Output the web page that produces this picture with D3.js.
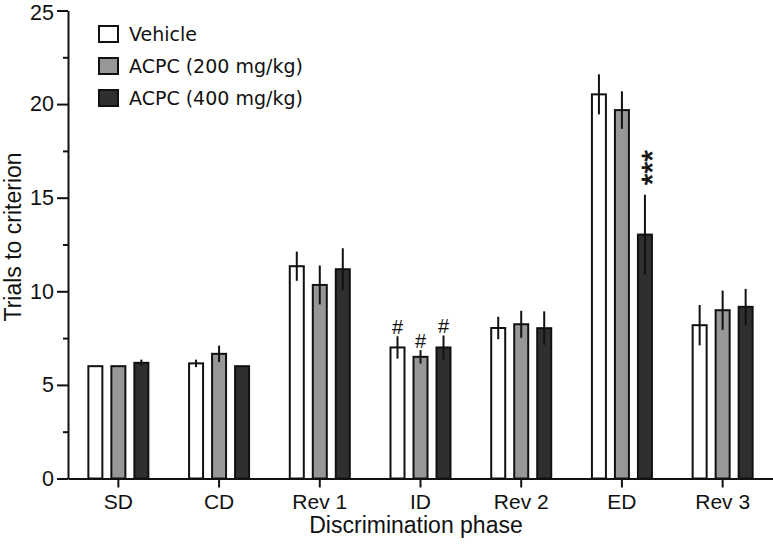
<!DOCTYPE html>
<html><head><meta charset="utf-8">
<script src="https://cdn.jsdelivr.net/npm/d3@7"></script>
<style>body{margin:0;background:#fff}svg{display:block}</style>
</head><body>
<svg id="chart" width="773" height="546"></svg>
<script>
const categories = ["SD","CD","Rev 1","ID","Rev 2","ED","Rev 3"];
const seriesNames = ["Vehicle","ACPC (200 mg/kg)","ACPC (400 mg/kg)"];
const seriesColors = ["#ffffff","#979797","#2f2f2f"];
const vehicle   = [6.0, 6.15, 11.34, 7.0, 8.04, 20.52, 8.19];
const acpc200   = [6.0, 6.66, 10.34, 6.5, 8.24, 19.68, 8.99];
const acpc400   = [6.18, 6.0, 11.18, 7.0, 8.03, 13.03, 9.17];
const vehicleErr = [0, 0.2, 0.78, 0.6, 0.6, 1.07, 1.08];
const acpc200Err = [0, 0.44, 1.04, 0.36, 0.72, 1.0, 1.05];
const acpc400Err = [0.17, 0, 1.12, 0.64, 0.9, 2.13, 0.96];
const hashMarks = [["ID",0],["ID",1],["ID",2]];
const starMarks = [["ED",2,"***"]];
const yTicks = [0,5,10,15,20,25];
const yMinor = [2.5,7.5,12.5,17.5,22.5];

const values = [vehicle, acpc200, acpc400];
const errs = [vehicleErr, acpc200Err, acpc400Err];
const FONT = "'Liberation Sans', Arial, sans-serif";

const svg = d3.select("#chart");
const x = d3.scaleBand().domain(categories).range([68, 773]).padding(0);
const y = d3.scaleLinear().domain([0, 25]).range([478.5, 10.5]);
const offset = d3.scalePoint().domain([0,1,2]).range([-23, 23]);
const barW = 14;

// bars
values.forEach((vals, s) => {
  const g = svg.append("g");
  g.selectAll("rect").data(categories).join("rect")
    .attr("x", (c) => x(c) + x.bandwidth()/2 + offset(s) - barW/2)
    .attr("width", barW)
    .attr("y", (c, i) => y(vals[i]))
    .attr("height", (c, i) => y(0) - y(vals[i]))
    .attr("fill", seriesColors[s])
    .attr("stroke", "#111")
    .attr("stroke-width", 2);
  g.selectAll("line.err").data(categories).join("line")
    .attr("class","err")
    .attr("x1", (c) => x(c) + x.bandwidth()/2 + offset(s))
    .attr("x2", (c) => x(c) + x.bandwidth()/2 + offset(s))
    .attr("y1", (c, i) => y(vals[i] + errs[s][i]))
    .attr("y2", (c, i) => y(vals[i] - errs[s][i]))
    .attr("stroke", "#111")
    .attr("stroke-width", 2);
});

// y axis
const yAxis = svg.append("g").attr("transform","translate(68,0)")
  .call(d3.axisLeft(y).tickValues(yTicks).tickSize(11).tickPadding(3).tickSizeOuter(0));
yAxis.select(".domain").attr("stroke","#111").attr("stroke-width",2);
yAxis.selectAll(".tick line").attr("stroke","#111").attr("stroke-width",2);
yAxis.selectAll(".tick text").attr("font-family",FONT).attr("font-size",21.5).attr("fill","#111")
  .attr("dy", (d) => d === 25 ? "0.42em" : "0.32em");
const yMin = svg.append("g").attr("transform","translate(68,0)")
  .call(d3.axisLeft(y).tickValues(yMinor).tickSize(5).tickFormat(""));
yMin.select(".domain").remove();
yMin.selectAll(".tick line").attr("stroke","#111").attr("stroke-width",2);

// x axis
const xAxis = svg.append("g").attr("transform",`translate(0,${y(0)})`)
  .call(d3.axisBottom(x).tickSize(9).tickPadding(7).tickSizeOuter(0));
xAxis.select(".domain").attr("stroke","#111").attr("stroke-width",2);
xAxis.selectAll(".tick line").attr("stroke","#111").attr("stroke-width",2);
xAxis.selectAll(".tick text").attr("font-family",FONT).attr("font-size",21).attr("fill","#111");

// axis titles
svg.append("text").attr("x", 416).attr("y", 533).attr("text-anchor","middle")
  .attr("font-family",FONT).attr("font-size",23).attr("fill","#111")
  .text("Discrimination phase");
svg.append("text").attr("transform","translate(21,237) rotate(-90)").attr("text-anchor","middle")
  .attr("font-family",FONT).attr("font-size",23).attr("fill","#111")
  .text("Trials to criterion");

// significance marks
hashMarks.forEach(([c, s]) => {
  const i = categories.indexOf(c);
  svg.append("text")
    .attr("x", x(c) + x.bandwidth()/2 + offset(s))
    .attr("y", y(values[s][i] + errs[s][i]) - 2)
    .attr("text-anchor","middle")
    .attr("font-family",FONT).attr("font-size",20).attr("fill","#111")
    .text("#");
});
starMarks.forEach(([c, s, t]) => {
  const i = categories.indexOf(c);
  const cx = x(c) + x.bandwidth()/2 + offset(s);
  const top = y(values[s][i] + errs[s][i]);
  svg.append("text")
    .attr("transform", `translate(${cx + 17},${top - 27}) rotate(-90)`)
    .attr("text-anchor","middle")
    .attr("font-family",FONT).attr("font-size",30).attr("fill","#111")
    .attr("stroke","#111").attr("stroke-width",0.6)
    .text(t);
});

// legend
const leg = svg.append("g");
seriesNames.forEach((name, s) => {
  const cy = 34 + s * 32;
  leg.append("rect").attr("x", 99).attr("y", cy - 8).attr("width", 19).attr("height", 16)
    .attr("fill", seriesColors[s]).attr("stroke","#111").attr("stroke-width",2);
  leg.append("text").attr("x", 129).attr("y", cy + 7)
    .attr("font-family","'DejaVu Sans', Verdana, sans-serif").attr("font-size",19).attr("fill","#111")
    .text(name);
});
</script>
</body></html>
